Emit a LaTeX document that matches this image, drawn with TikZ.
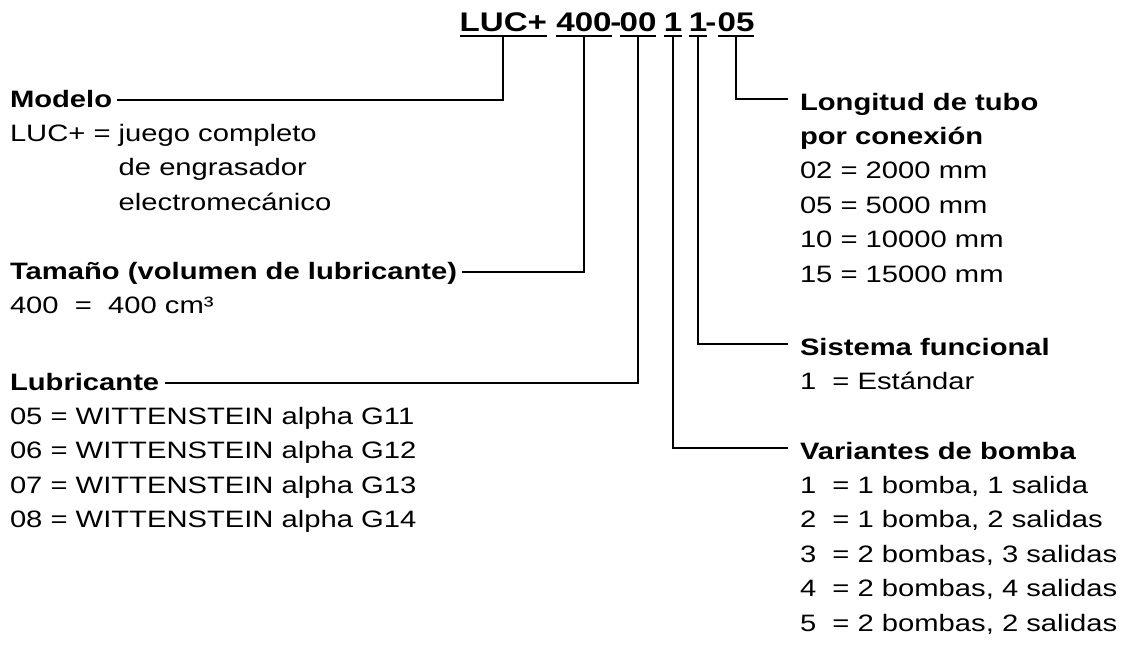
\documentclass[tikz,border=0pt]{standalone}
\usepackage{fontspec}
\setmainfont{Liberation Sans}[FakeStretch=1.23]
\usetikzlibrary{positioning}
\def\lsep{34.4}
\tikzset{
  code/.style={font=\bfseries\fontsize{20.2}{24}\selectfont,inner sep=0pt,
      outer sep=0pt,text height=14pt,text depth=3.8pt,anchor=base},
  lhead/.style={font=\bfseries\fontsize{17.8}{24}\selectfont,inner sep=0pt,
      outer sep=0pt,text height=10.5pt,text depth=0pt,anchor=base west},
  rhead/.style={lhead,text height=16.5pt},
  valtxt/.style={font=\fontsize{17.8}{24}\selectfont,inner sep=0pt,
      outer sep=0pt,anchor=base west},
  conn/.style={line width=1.4pt,draw=black},
  uline/.style={line width=1.5pt,draw=black},
}
\newcommand{\vallist}[4]{%
  \foreach \txt [count=\i] in {#4}
    \node[valtxt] (#3\i) at (#1,{#2+\lsep*\i}) {\txt};}

\begin{document}
\begin{tikzpicture}[x=0.75pt,y=-0.75pt]
  \useasboundingbox (0,0) rectangle (1125,644);

  % type code
  \node[code] (c2) at (584,31) {400};
  \node[code,left=7pt of c2] (c1) {LUC+};
  \node[code] (h1) at (616,31) {-};
  \node[code] (c3) at (638,31) {00};
  \node[code] (c4) at (673,31) {1};
  \node[code] (c5) at (698,31) {1};
  \node[code] (h2) at (711,31) {-};
  \node[code] (c6) at (736,31) {05};
  \foreach \n in {c1,c2,c3,c4,c5,c6}
    \draw[uline] (\n.south west) -- (\n.south east);

  % left column
  \node[lhead] (modelo) at (10,107) {Modelo};
  \node[valtxt] (mod1) at (10,141.4) {LUC+ = juego completo};
  \node[valtxt] (mod2) at (10,175.8) {\phantom{LUC+ = }de engrasador};
  \node[valtxt] (mod3) at (10,210.2) {\phantom{LUC+ = }electromecánico};

  \node[lhead] (tam) at (10,279) {Tamaño (volumen de lubricante)};
  \node[valtxt] (tam1) at (10,313.4) {400\ \ =\ \ 400 cm³};

  \node[lhead] (lub) at (10,390) {Lubricante};
  \vallist{10}{390}{lub}{05 = WITTENSTEIN alpha G11,06 = WITTENSTEIN alpha G12,
    07 = WITTENSTEIN alpha G13,08 = WITTENSTEIN alpha G14}

  % right column
  \node[rhead] (lon) at (800,110) {Longitud de tubo};
  \node[rhead] (lon0) at (800,144.4) {por conexión};
  \vallist{800}{144.4}{lon}{02 = 2000 mm,05 = 5000 mm,10 = 10000 mm,15 = 15000 mm}

  \node[rhead] (sis) at (800,355) {Sistema funcional};
  \node[valtxt] (sis1) at (800,389.4) {1\ \ = Estándar};

  \node[rhead] (var) at (800,459) {Variantes de bomba};
  \vallist{800}{459}{var}{{1\ \ = 1 bomba, 1 salida},{2\ \ = 1 bomba, 2 salidas},
    {3\ \ = 2 bombas, 3 salidas},{4\ \ = 2 bombas, 4 salidas},
    {5\ \ = 2 bombas, 2 salidas}}

  % connectors
  \draw[conn] ([xshift=4pt]modelo.east) -| (c1.south);
  \draw[conn] ([xshift=4pt]tam.east) -| (c2.south);
  \draw[conn] ([xshift=4pt]lub.east) -| (c3.south);
  \draw[conn] (c4.south) |- ([xshift=-9pt]var.west);
  \draw[conn] (c5.south) |- ([xshift=-9pt]sis.west);
  \draw[conn] (c6.south) |- ([xshift=-9pt]lon.west);
\end{tikzpicture}
\end{document}
